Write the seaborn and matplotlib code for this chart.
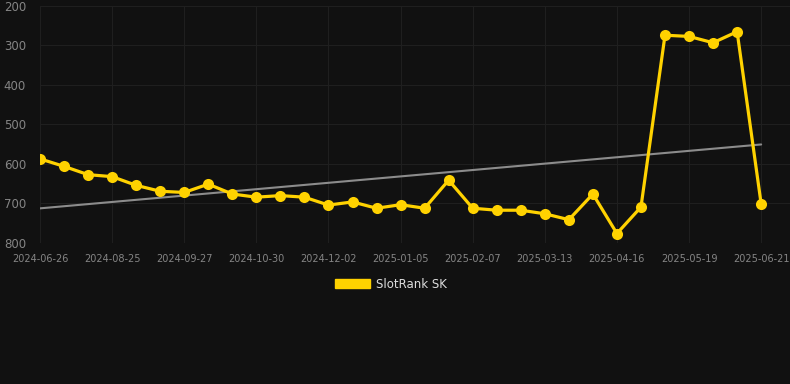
import numpy as np
import pandas as pd
import seaborn as sns
import matplotlib.pyplot as plt

# Every third point carries a date label on the axis
tick_labels = ["2024-06-26", "2024-08-25", "2024-09-27", "2024-10-30", "2024-12-02",
               "2025-01-05", "2025-02-07", "2025-03-13", "2025-04-16", "2025-05-19",
               "2025-06-21"]

# SlotRank SK rank per snapshot (lower is better, axis inverted)
rank = [587, 606, 627, 632, 654, 669, 672, 651, 676, 684, 680,
        684, 704, 696, 712, 703, 712, 641, 712, 717, 717, 726,
        741, 676, 776, 709, 274, 277, 293, 265, 701]

series_name = "SlotRank SK"

BG = "#111111"
GRID = "#1f1f1f"
TEXT = "#858585"
GOLD = "#ffd200"

df = pd.DataFrame({"idx": np.arange(len(rank)), "rank": rank})

sns.set_style("dark")
plt.rcParams["font.family"] = ["DejaVu Sans"]

fig = plt.figure(figsize=(7.9, 3.84), dpi=100, facecolor=BG)
ax = fig.add_axes([40 / 790, 1 - 243 / 384, 750 / 790, 237 / 384])
ax.set_facecolor(BG)

# linear trend over the series
coef = np.polyfit(df["idx"], df["rank"], 1)
trend = np.polyval(coef, df["idx"])
ax.plot(df["idx"], trend, color="#8c8c8c", linewidth=1.5, zorder=2)

sns.lineplot(data=df, x="idx", y="rank", ax=ax, color=GOLD, linewidth=2.3,
             marker="o", markersize=8, markeredgewidth=0, label=series_name,
             legend=False, zorder=3)

ax.set_ylim(800, 200)
ax.set_xlim(0, 31.2)
ax.set_yticks([200, 300, 400, 500, 600, 700, 800])
ax.set_xticks(np.arange(0, len(rank), 3))
ax.set_xticklabels(tick_labels)

ax.grid(True, color=GRID, linewidth=0.8)
for s in ax.spines.values():
    s.set_visible(False)

ax.tick_params(axis="x", colors=GRID, labelcolor=TEXT, labelsize=7,
               length=5, width=0.8, pad=3)
ax.tick_params(axis="y", labelcolor=TEXT, labelsize=8.5, length=0, pad=10)
ax.set_xlabel("")
ax.set_ylabel("")

handle = plt.Rectangle((0, 0), 1, 1, color=GOLD)
leg = fig.legend([handle], [series_name], loc="center", bbox_to_anchor=(0.495, 1 - 284 / 384),
                 frameon=False, handlelength=3.0, handleheight=0.9, handletextpad=0.5,
                 fontsize=8.5)
for t in leg.get_texts():
    t.set_color("#dddddd")

fig.savefig("out.png", dpi=100, facecolor=BG)
